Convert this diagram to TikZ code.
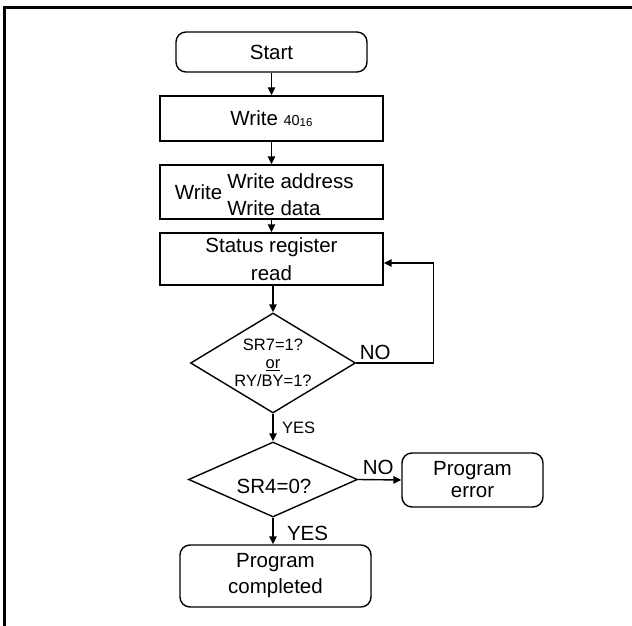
\documentclass[tikz,border=0pt]{standalone}
\usepackage{fontspec}
\setmainfont{Liberation Sans}
\usetikzlibrary{shapes.geometric, arrows.meta}

\tikzset{
    procbox/.style={draw, line width=1.4pt, rectangle, inner sep=0pt, align=center},
    termbox/.style={procbox, rounded corners=10pt},
    decision/.style={draw, line width=1.4pt, diamond, inner sep=0pt},
    flow/.style={line width=1.4pt, -{Triangle[length=8pt, width=7.5pt]}},
    smalltxt/.style={font=\fontsize{16.5}{18}\selectfont},
}

\begin{document}
\begin{tikzpicture}[x=1pt, y=-1pt, font=\fontsize{20.5}{26}\selectfont]

    % ==========================================
    % PAGE AND FRAME
    % ==========================================

    \useasboundingbox (0,0) rectangle (632,626);
    \draw[line width=3pt] (4,626) -- (4,8) -- (632,8);

    % ==========================================
    % BOXES
    % ==========================================

    % Start and the two write steps
    \node[termbox, minimum width=191pt, minimum height=40pt] (start) at (271.5,52) {Start};
    \node[procbox, minimum width=223pt, minimum height=45pt] (write40) at (271.5,118.5)
        {Write {\fontsize{14.5}{14}\selectfont 40}{\fontsize{11.5}{11}\selectfont\raisebox{-1pt}{16}}};

    \node[procbox, minimum width=223pt, minimum height=54pt] (wrdata) at (271.5,192) {};
    \node[anchor=west, xshift=12pt] (wrlabel) at (wrdata.west) {Write};
    \node[align=left, font=\fontsize{20.5}{27}\selectfont] (wrtext) at (290.5,194.5) {Write address\\Write data};

    % Status read, polled until ready
    \node[procbox, minimum width=223pt, minimum height=52pt, font=\fontsize{20.5}{28}\selectfont] (readsr) at (271.5,259)
        {Status register\\read};

    % ==========================================
    % DECISIONS
    % ==========================================

    \node[decision, minimum width=165pt, minimum height=100pt] (chksr7) at (273,363) {};
    \node[smalltxt, align=center] (sr7text) at (chksr7) {SR7=1?\\\underline{or}\\RY/BY=1?};

    \node[decision, minimum width=169pt, minimum height=75pt] (chksr4) at (273,479.5) {};
    \node (sr4text) at (274,486) {SR4=0?};

    % End states
    \node[termbox, minimum width=141pt, minimum height=54pt, font=\fontsize{20.5}{22}\selectfont] (prgerr) at (472.5,480)
        {Program\\error};
    \node[termbox, minimum width=191pt, minimum height=62pt] (prgdone) at (275.5,576) {Program\\completed};

    % ==========================================
    % CONNECTORS
    % ==========================================

    \draw[flow] (start.south) -- (write40.north);
    \draw[flow] (write40.south) -- (wrdata.north);
    \draw[flow] (wrdata.south) -- (readsr.north);
    \draw[flow] (readsr.south -| chksr7.north) -- (chksr7.north);

    % not ready: back to the status read
    \draw[flow] (chksr7.east) node[anchor=south west, inner sep=3pt] (nolbl1) {NO}
        -- ++(77,0) |- ([yshift=-4pt]readsr.east);

    \draw[flow] (chksr7.south) -- node[smalltxt, right, xshift=5pt] (yeslbl1) {YES} (chksr4.north);

    \draw[flow] (chksr4.east) node[anchor=south west, inner sep=4pt] (nolbl2) {NO} -- (prgerr.west);

    \draw[flow] (chksr4.south) -- node[pos=.6, right, xshift=10pt] (yeslbl2) {YES} (chksr4.south |- prgdone.north);

\end{tikzpicture}
\end{document}
